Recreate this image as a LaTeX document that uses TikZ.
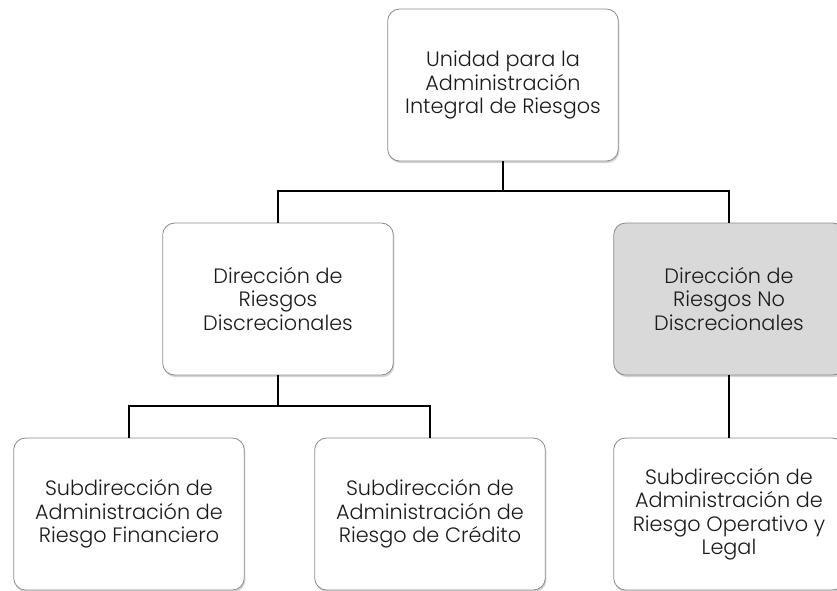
\documentclass[tikz,border=0pt]{standalone}
\usepackage{fontspec}
\setmainfont{Poppins}[UprightFont=* Light]
\usepackage{xcolor}
\usepackage{tikz}
\usetikzlibrary{shadows}
\definecolor{BoxLine}{HTML}{8C8C8C}
\definecolor{NoDiscGray}{HTML}{D9D9D9}
\definecolor{TextDark}{HTML}{1A1A1A}

\begin{document}
\begin{tikzpicture}[x=0.75pt,y=-0.75pt,
 box/.style={rounded corners=9pt,draw=BoxLine,fill=white,line width=0.6pt,
             minimum width=173pt,minimum height=114pt,align=center,
             text=TextDark,font=\fontsize{15.6}{17.6}\selectfont,
             drop shadow={shadow xshift=0.8pt,shadow yshift=-1.6pt,opacity=0.35}},
 link/.style={line width=1.4pt,black}]
\useasboundingbox (0,0) rectangle (837,590);
\node[box] (u) at (503,85) {Unidad para la\\Administración\\Integral de Riesgos};
\node[box] (dr) at (278,299) {Dirección de\\Riesgos\\Discrecionales};
\node[box,fill=NoDiscGray] (dn) at (729,299) {Dirección de\\Riesgos No\\Discrecionales};
\node[box] (sf) at (129,514) {Subdirección de\\Administración de\\Riesgo Financiero};
\node[box] (sc) at (430,514) {Subdirección de\\Administración de\\Riesgo de Crédito};
\node[box] (so) at (729,514) {Subdirección de\\Administración de\\Riesgo Operativo y\\Legal};
\draw[link] (u.south) -- ++(0,30) coordinate (ub) -| (dr.north);
\draw[link] (ub) -| (dn.north);
\draw[link] (dr.south) -- ++(0,31) coordinate (db) -| (sf.north);
\draw[link] (db) -| (sc.north);
\draw[link] (dn.south) -- (so.north);
\end{tikzpicture}
\end{document}
